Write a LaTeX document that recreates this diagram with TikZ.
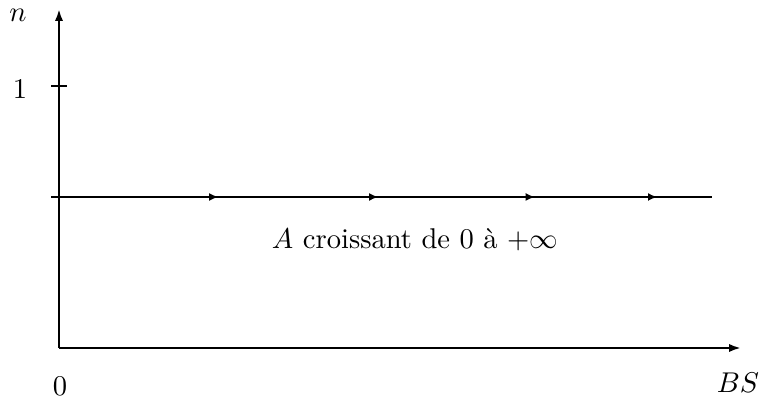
\documentclass[tikz,border=0pt]{standalone}
\usetikzlibrary{arrows.meta,decorations.markings}
\begin{document}
\begin{tikzpicture}[x=0.35pt,y=-0.35pt,
  axis/.style={line width=0.8pt,-{Latex[length=4.2pt,width=2.9pt]}},
  flow/.style={line width=0.8pt,postaction={decorate},
    decoration={markings,
      mark=at position 0.253 with {\arrow{Latex[length=3.2pt,width=2.8pt]}},
      mark=at position 0.495 with {\arrow{Latex[length=3.2pt,width=2.8pt]}},
      mark=at position 0.732 with {\arrow{Latex[length=3.2pt,width=2.8pt]}},
      mark=at position 0.917 with {\arrow{Latex[length=3.2pt,width=2.8pt]}}}},
  lbl/.style={inner sep=0pt}]
\useasboundingbox (0,0) rectangle (761,404);
\coordinate (O) at (59,348);
\coordinate (ytop) at (59,9);
\coordinate (xend) at (741,348);
\coordinate (ls) at (51,197);
\coordinate (le) at (712,197);
\coordinate (t1) at (51,86);
\coordinate (t2) at (67,86);
\draw[axis] (O) -- (ytop);
\draw[axis] (O) -- (xend);
\draw[line width=0.8pt] (t1) -- (t2);
\draw[flow] (ls) -- (le);
\node[lbl] (nlab) at (18,15) {$n$};
\node[lbl] (one) at (20,89) {$1$};
\node[lbl] (zero) at (60,386) {$0$};
\node[lbl] (bs) at (738,383) {$BS$};
\node[lbl] (txt) at (415,240) {$A$ croissant de $0$ à $+\infty$};
\end{tikzpicture}
\end{document}
